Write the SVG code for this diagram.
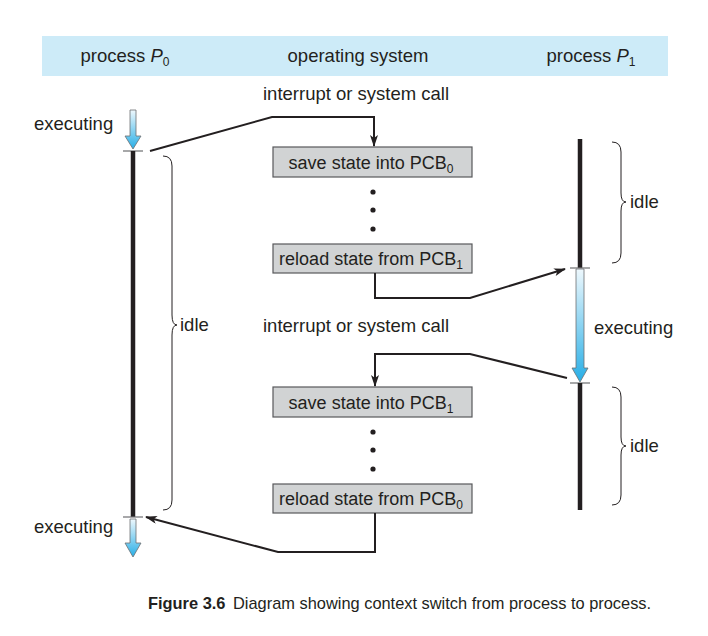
<svg xmlns="http://www.w3.org/2000/svg" width="708" height="636" viewBox="0 0 708 636">
  <style>
    text { font-family: "Liberation Sans", Arial, sans-serif; fill: #231f20; }
    .lbl { font-size: 18.5px; }
    .hdr { font-size: 18.5px; text-anchor: middle; }
    .box { fill: #d1d3d4; stroke: #58595b; stroke-width: 1.2; }
    .btxt { font-size: 18px; text-anchor: middle; }
    .sub { font-size: 12px; }
    .bar { stroke: #231f20; stroke-width: 4.5; fill: none; }
    .tick { stroke: #6d6e71; stroke-width: 1.2; fill: none; }
    .brace { stroke: #231f20; stroke-width: 1; fill: none; }
    .conn { stroke: #231f20; stroke-width: 2; fill: none; }
    .exec { stroke: #6d6e71; stroke-width: 0.8; }
    .dot { fill: #231f20; }
  </style>
  <defs>
    <linearGradient id="blueDown" x1="0" y1="0" x2="0" y2="1">
      <stop offset="0" stop-color="#eef8fd"/>
      <stop offset="1" stop-color="#27aee6"/>
    </linearGradient>
    <marker id="head" viewBox="0 0 12 8" refX="11" refY="4" markerWidth="12" markerHeight="8" markerUnits="userSpaceOnUse" orient="auto">
      <path d="M0,0 L12,4 L0,8 L3,4 z" fill="#231f20"/>
    </marker>
  </defs>

  <!-- header band -->
  <g id="header">
    <rect x="42" y="36" width="626" height="40" fill="#cdebf8"/>
    <text class="hdr" x="125" y="62">process <tspan font-style="italic">P</tspan><tspan class="sub" dy="4">0</tspan></text>
    <text class="hdr" x="358" y="62">operating system</text>
    <text class="hdr" x="591" y="62">process <tspan font-style="italic">P</tspan><tspan class="sub" dy="4">1</tspan></text>
  </g>

  <!-- process P0 timeline -->
  <g id="p0">
    <text class="lbl" x="34" y="130">executing</text>
    <path class="exec" fill="url(#blueDown)" d="M130,110 L136,110 L136,136 L141,136 L133,149 L125,136 L130,136 z"/>
    <line class="tick" x1="123" y1="151" x2="143" y2="151"/>
    <line class="bar" x1="133" y1="151" x2="133" y2="517"/>
    <line class="tick" x1="123" y1="517" x2="143" y2="517"/>
    <path class="exec" fill="url(#blueDown)" d="M130,519 L136,519 L136,543 L141,543 L133,557 L125,543 L130,543 z"/>
    <text class="lbl" x="34" y="533">executing</text>
    <path class="brace" d="M163,156 Q172,156 172,166 L172,315 Q172,325 177,325 Q172,325 172,335 L172,500 Q172,510 163,510"/>
    <text class="lbl" x="180" y="331">idle</text>
  </g>

  <!-- operating system steps -->
  <g id="os-call1">
    <text class="lbl" x="263" y="100">interrupt or system call</text>
  </g>
  <g id="save0">
    <rect class="box" x="273" y="147" width="199" height="30"/>
    <text class="btxt" x="371" y="168.5">save state into PCB<tspan class="sub" dy="4">0</tspan></text>
  </g>
  <g id="dots1">
    <circle class="dot" cx="373" cy="192" r="2.6"/>
    <circle class="dot" cx="373" cy="210" r="2.6"/>
    <circle class="dot" cx="373" cy="229" r="2.6"/>
  </g>
  <g id="reload1">
    <rect class="box" x="273" y="244" width="199" height="29"/>
    <text class="btxt" x="371" y="265">reload state from PCB<tspan class="sub" dy="4">1</tspan></text>
  </g>
  <g id="os-call2">
    <text class="lbl" x="263" y="332">interrupt or system call</text>
  </g>
  <g id="save1">
    <rect class="box" x="273" y="387" width="199" height="30"/>
    <text class="btxt" x="371" y="408.5">save state into PCB<tspan class="sub" dy="4">1</tspan></text>
  </g>
  <g id="dots2">
    <circle class="dot" cx="373" cy="432" r="2.6"/>
    <circle class="dot" cx="373" cy="450" r="2.6"/>
    <circle class="dot" cx="373" cy="469" r="2.6"/>
  </g>
  <g id="reload0">
    <rect class="box" x="273" y="484" width="199" height="29"/>
    <text class="btxt" x="371" y="505">reload state from PCB<tspan class="sub" dy="4">0</tspan></text>
  </g>

  <!-- process P1 timeline -->
  <g id="p1">
    <line class="bar" x1="580" y1="139" x2="580" y2="268"/>
    <line class="tick" x1="570" y1="268" x2="590" y2="268"/>
    <path class="exec" fill="url(#blueDown)" d="M576,269 L584,269 L584,368 L588,368 L580,382 L572,368 L576,368 z"/>
    <line class="tick" x1="570" y1="383" x2="590" y2="383"/>
    <line class="bar" x1="580" y1="383" x2="580" y2="510"/>
    <text class="lbl" x="594" y="334">executing</text>
    <path class="brace" d="M612,142 Q621,142 621,152 L621,193 Q621,202 626,202 Q621,202 621,211 L621,253 Q621,263 612,263"/>
    <text class="lbl" x="630" y="208">idle</text>
    <path class="brace" d="M612,387 Q621,387 621,397 L621,437 Q621,446 626,446 Q621,446 621,455 L621,495 Q621,505 612,505"/>
    <text class="lbl" x="630" y="452">idle</text>
  </g>

  <!-- connectors -->
  <g id="connectors">
    <path class="conn" marker-end="url(#head)" d="M150,151 L272,117 L374,117 L374,146"/>
    <path class="conn" marker-end="url(#head)" d="M375,273 L375,298 L470,298 L565,269"/>
    <path class="conn" marker-end="url(#head)" d="M567,378 L470,354 L375,354 L375,386"/>
    <path class="conn" marker-end="url(#head)" d="M375,513 L375,552 L278,552 L146,517"/>
  </g>

  <!-- caption -->
  <g id="caption">
    <text x="148" y="609" font-size="16.4" font-weight="bold">Figure 3.6</text>
    <text x="233" y="609" font-size="16.4">Diagram showing context switch from process to process.</text>
  </g>
</svg>
